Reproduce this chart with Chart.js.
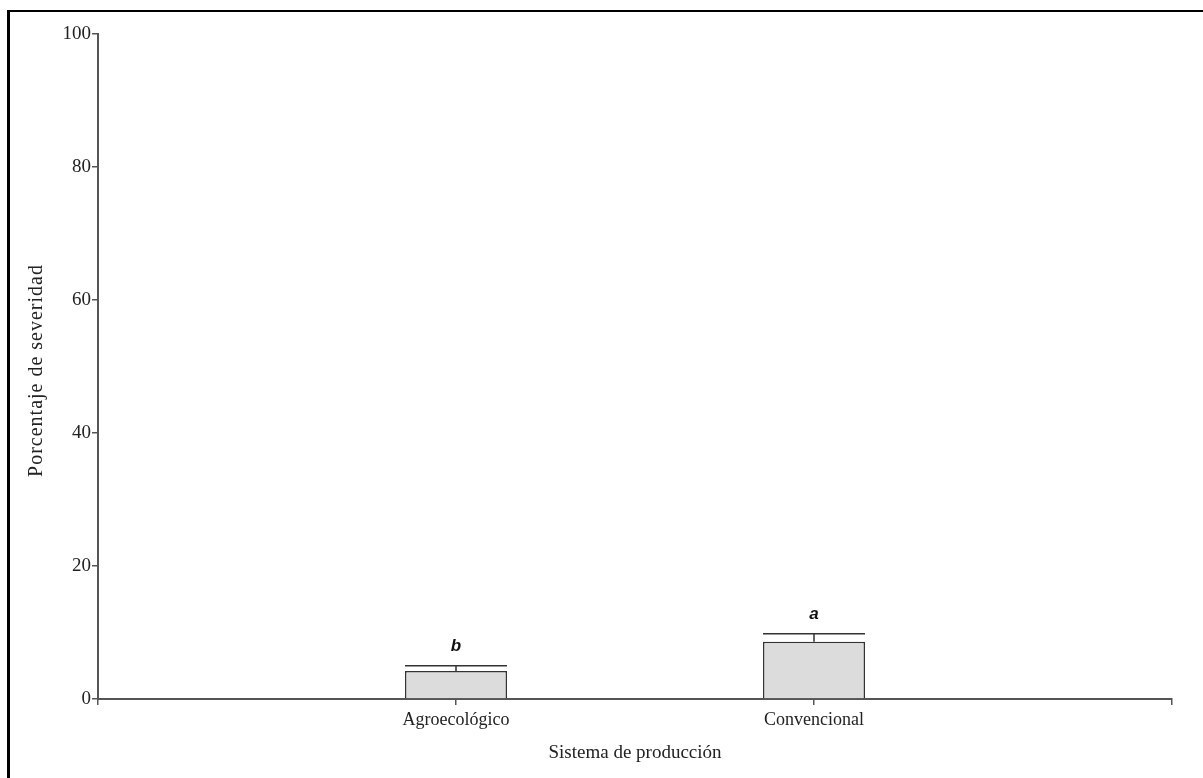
<!DOCTYPE html>
<html>
<head>
<meta charset="utf-8">
<script src="https://cdn.jsdelivr.net/npm/chart.js@4"></script>
<style>
  html, body { margin: 0; padding: 0; background: #fff; }
  #wrap { position: relative; width: 1203px; height: 778px; }
  #frame { position: absolute; left: 7px; top: 10px; right: 0; bottom: 0;
           border-left: 3px solid #000; border-top: 2px solid #000; pointer-events: none; }
  canvas { position: absolute; left: 0; top: 0; }
</style>
</head>
<body>
<div id="wrap">
  <canvas id="chart" width="1203" height="778"></canvas>
  <div id="frame"></div>
</div>
<script>
// Production systems compared
const categories = ['Agroecológico', 'Convencional'];
// Mean severity (%) per system
const severity = [4.2, 8.6];
// Upper end of the error bar (%)
const errorTop = [5.0, 9.8];
// Mean-separation letters
const letters = ['b', 'a'];
// Y axis ticks
const yTicks = [0, 20, 40, 60, 80, 100];
const yTitle = 'Porcentaje de severidad';

// Empty slots on either side keep the bars at thirds of the axis
const labels = [''].concat(categories, ['']);
const barData = [null].concat(severity, [null]);
const errData = [null].concat(errorTop, [null]);
const letterData = [null].concat(letters, [null]);

const axisColor = '#555';
const serif = 'Liberation Serif, Times New Roman, serif';

const errorBars = {
  id: 'errorBars',
  afterDatasetsDraw(chart) {
    const ctx = chart.ctx;
    const meta = chart.getDatasetMeta(0);
    const y = chart.scales.y;
    ctx.save();
    meta.data.forEach((bar, i) => {
      if (barData[i] == null) return;
      const top = y.getPixelForValue(errData[i]);
      const half = bar.width / 2;
      ctx.strokeStyle = '#333';
      ctx.lineWidth = 1.5;
      ctx.beginPath();
      ctx.moveTo(bar.x, bar.y);
      ctx.lineTo(bar.x, top);
      ctx.moveTo(bar.x - half, top);
      ctx.lineTo(bar.x + half, top);
      ctx.stroke();
      ctx.fillStyle = '#111';
      ctx.font = 'italic bold 17px Liberation Sans, Arial, sans-serif';
      ctx.textAlign = 'center';
      ctx.textBaseline = 'alphabetic';
      ctx.fillText(letterData[i], bar.x, top - 15);
    });
    ctx.restore();
  }
};

// Rotated title for the value axis
const valueTitle = {
  id: 'valueTitle',
  afterDraw(chart) {
    const ctx = chart.ctx;
    const area = chart.chartArea;
    ctx.save();
    ctx.translate(37, (area.top + area.bottom) / 2 + 4);
    ctx.rotate(-Math.PI / 2);
    ctx.font = '20px ' + serif;
    ctx.fillStyle = '#222';
    ctx.textAlign = 'center';
    ctx.textBaseline = 'middle';
    if ('letterSpacing' in ctx) ctx.letterSpacing = '1px';
    ctx.fillText(yTitle, 0, 0);
    ctx.restore();
  }
};

new Chart(document.getElementById('chart'), {
  type: 'bar',
  data: {
    labels: labels,
    datasets: [{
      data: barData,
      backgroundColor: '#dcdcdc',
      borderColor: '#333',
      borderWidth: 1.5,
      borderSkipped: 'bottom',
      barPercentage: 0.285,
      categoryPercentage: 1
    }]
  },
  options: {
    responsive: false,
    animation: false,
    layout: { padding: { left: 0, top: 34, right: 31, bottom: 0 } },
    plugins: { legend: { display: false }, tooltip: { enabled: false } },
    scales: {
      x: {
        type: 'category',
        offset: false,
        afterFit(scale) { scale.height = 79; },
        grid: { offset: false, drawOnChartArea: false, drawTicks: true, tickLength: 6, color: axisColor, lineWidth: 1.5 },
        border: { color: axisColor, width: 2 },
        ticks: { color: '#222', font: { family: serif, size: 18 }, padding: 4, maxRotation: 0, autoSkip: false },
        title: { display: true, text: 'Sistema de producción', color: '#222',
                 font: { family: serif, size: 19 }, padding: { top: 0, bottom: 14 } }
      },
      y: {
        min: 0,
        max: 100,
        afterFit(scale) { scale.width = 98; },
        afterBuildTicks(scale) { scale.ticks = yTicks.map(v => ({ value: v })); },
        grid: { drawOnChartArea: false, drawTicks: true, tickLength: 6, color: axisColor, lineWidth: 1.5 },
        border: { color: axisColor, width: 2 },
        ticks: { color: '#222', font: { family: serif, size: 19 }, padding: 1 },
        title: { display: false }
      }
    }
  },
  plugins: [errorBars, valueTitle]
});
</script>
</body>
</html>
